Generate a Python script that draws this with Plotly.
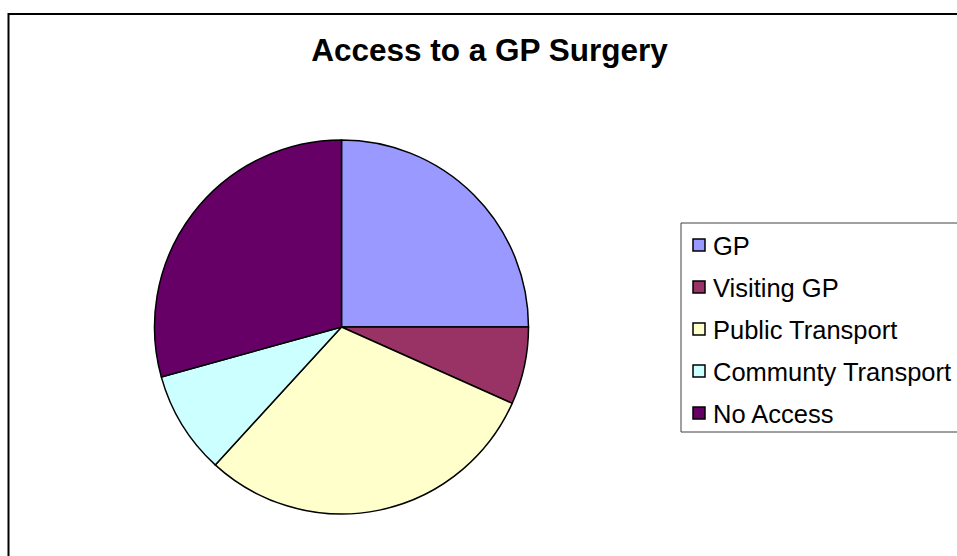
import plotly.graph_objects as go

# Data
labels = ["GP", "Visiting GP", "Public Transport", "Communty Transport", "No Access"]
values = [25.0, 6.7, 30.1, 8.9, 29.3]
colors = ["#9999FF", "#993366", "#FFFFCC", "#CCFFFF", "#660066"]
title_text = "Access to a GP Surgery"

W, H = 957, 556
FONT = "Liberation Sans, Arial, sans-serif"

def px(x):
    return x / W

def py(y):
    return 1 - y / H

# pie geometry (pixels)
cx, cy, r = 341.5, 327.0, 187.0

fig = go.Figure(
    go.Pie(
        labels=labels,
        values=values,
        marker=dict(colors=colors, line=dict(color="black", width=1.5)),
        sort=False,
        direction="clockwise",
        rotation=0,
        textinfo="none",
        hoverinfo="label+percent",
        showlegend=False,
        domain=dict(x=[px(cx - r), px(cx + r)], y=[py(cy + r), py(cy - r)]),
    )
)

shapes = []
annotations = []

# outer chart border
shapes.append(dict(type="rect", xref="paper", yref="paper",
                   x0=px(8.5), x1=px(1000), y0=py(14), y1=py(620),
                   line=dict(color="black", width=2), fillcolor="rgba(0,0,0,0)", layer="below"))

# legend box
shapes.append(dict(type="rect", xref="paper", yref="paper",
                   x0=px(681), x1=px(1000), y0=py(223), y1=py(432),
                   line=dict(color="#404040", width=1), fillcolor="rgba(0,0,0,0)"))

row_y = [245, 287, 329, 371, 413]
for lab, col, yy in zip(labels, colors, row_y):
    shapes.append(dict(type="rect", xref="paper", yref="paper",
                       x0=px(693), x1=px(705), y0=py(yy + 6), y1=py(yy - 6),
                       line=dict(color="black", width=1.5), fillcolor=col))
    annotations.append(dict(x=px(711), y=py(yy + 1), xref="paper", yref="paper",
                            text=lab, showarrow=False, xanchor="left", yanchor="middle",
                            font=dict(family=FONT, size=25.5, color="black")))

fig.update_layout(
    width=W, height=H,
    margin=dict(l=0, r=0, t=0, b=0),
    paper_bgcolor="white",
    plot_bgcolor="white",
    title=dict(text="<b>" + title_text + "</b>", x=px(489.5), xanchor="center",
               y=1 - 50 / H, yanchor="middle", yref="container", xref="paper",
               font=dict(family=FONT, size=31.5, color="black")),
    shapes=shapes,
    annotations=annotations,
)

fig.write_html(
    "out.html",
    config={"displayModeBar": False},
    post_script="document.body.style.margin='0';document.body.style.overflow='hidden';",
)
